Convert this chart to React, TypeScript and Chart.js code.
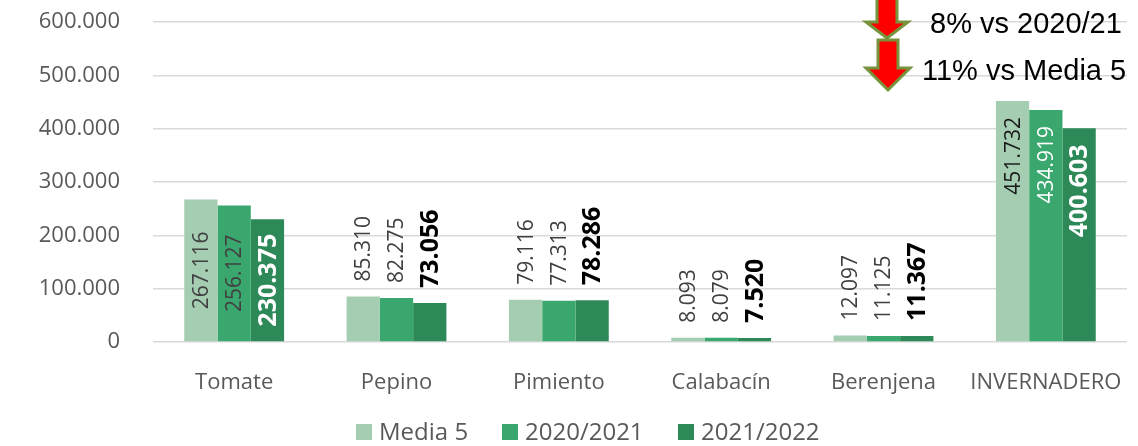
import React, { useEffect, useRef } from "react";
import { Chart, registerables } from "chart.js";

Chart.register(...registerables);

const categories = ["Tomate", "Pepino", "Pimiento", "Calabacín", "Berenjena", "INVERNADERO"];
const media5 = [267116, 85310, 79116, 8093, 12097, 451732];
const campaign2020 = [256127, 82275, 77313, 8079, 11125, 434919];
const campaign2021 = [230375, 73056, 78286, 7520, 11367, 400603];
const seriesNames = ["Media 5", "2020/2021", "2021/2022"];
const seriesColors = ["#a5cdb2", "#3aa86e", "#2d8a58"];
// label placement per category: c = centre inside, o = outside end, i = inside end
const labelModes = ["c", "o", "o", "o", "o", "i"];
const annotationLines = ["8% vs 2020/21", "11% vs Media 5"];

const FONT = "'Open Sans', 'Noto Sans', sans-serif";

function fmt(v: number) {
  return v.toLocaleString("de-DE");
}

function labelColor(mode: string, ds: number) {
  if (mode === "c") return ds === 2 ? "#ffffff" : "#404040";
  if (mode === "o") return ds === 2 ? "#000000" : "#404040";
  return ds === 0 ? "#1a1a1a" : "#ffffff";
}

const labelPlugin = {
  id: "barLabels",
  afterDatasetsDraw(chart: any) {
    const ctx = chart.ctx;
    chart.data.datasets.forEach((ds: any, di: number) => {
      const meta = chart.getDatasetMeta(di);
      meta.data.forEach((bar: any, j: number) => {
        const mode = labelModes[j];
        const bold = di === 2;
        const text = fmt(ds.data[j]);
        ctx.save();
        ctx.font = `${bold ? "bold " : ""}${bold ? 25 : 21}px ${FONT}`;
        ctx.fillStyle = labelColor(mode, di);
        ctx.textBaseline = "middle";
        let y: number;
        if (mode === "c") {
          y = (bar.y + bar.base) / 2;
          ctx.textAlign = "center";
        } else if (mode === "o") {
          y = bar.y - 15;
          ctx.textAlign = "left";
        } else {
          y = bar.y + 16;
          ctx.textAlign = "right";
        }
        ctx.translate(bar.x + 1, y);
        ctx.rotate(-Math.PI / 2);
        ctx.fillText(text, 0, 0);
        ctx.restore();
      });
    });
  },
};

function drawArrow(ctx: any, cx: number, top: number, headY: number, tip: number, shaftHalf: number, headHalf: number) {
  ctx.beginPath();
  ctx.moveTo(cx - shaftHalf, top);
  ctx.lineTo(cx + shaftHalf, top);
  ctx.lineTo(cx + shaftHalf, headY);
  ctx.lineTo(cx + headHalf, headY);
  ctx.lineTo(cx, tip);
  ctx.lineTo(cx - headHalf, headY);
  ctx.lineTo(cx - shaftHalf, headY);
  ctx.closePath();
  ctx.fillStyle = "#ff0000";
  ctx.fill();
  ctx.lineWidth = 3;
  ctx.strokeStyle = "#77933c";
  ctx.stroke();
}

const decorPlugin = {
  id: "decor",
  afterDraw(chart: any) {
    const ctx = chart.ctx;
    ctx.save();
    // arrows
    drawArrow(ctx, 887, -10, 22, 38, 10, 21);
    drawArrow(ctx, 888, 40, 68, 90, 10, 22);
    ctx.fillStyle = "#000000";
    ctx.font = "29px 'Liberation Sans', Arial, sans-serif";
    ctx.textAlign = "left";
    ctx.textBaseline = "middle";
    ctx.fillText(annotationLines[0], 930, 25);
    ctx.fillText(annotationLines[1], 922, 72);
    // legend
    const items = [
      { box: 356, text: 379 },
      { box: 502, text: 525 },
      { box: 678, text: 701 },
    ];
    ctx.font = `24px ${FONT}`;
    items.forEach((it, i) => {
      ctx.fillStyle = seriesColors[i];
      ctx.fillRect(it.box, 424, 16, 16);
      ctx.fillStyle = "#595959";
      ctx.fillText(seriesNames[i], it.text, 433);
    });
    ctx.restore();
  },
};

export default function App() {
  const ref = useRef<HTMLCanvasElement>(null);
  useEffect(() => {
    document.body.style.margin = "0";
    const chart = new Chart(ref.current as HTMLCanvasElement, {
      type: "bar",
      data: {
        labels: categories,
        datasets: [media5, campaign2020, campaign2021].map((d, i) => ({
          label: seriesNames[i],
          data: d,
          backgroundColor: seriesColors[i],
          borderWidth: 0,
          barPercentage: 1,
          categoryPercentage: 0.615,
        })),
      },
      options: {
        responsive: false,
        animation: false,
        devicePixelRatio: 1,
        layout: { padding: { top: 22, right: 11, left: 0, bottom: 0 } },
        plugins: { legend: { display: false }, tooltip: { enabled: false } },
        scales: {
          x: {
            grid: { display: false },
            border: { display: false },
            ticks: { color: "#595959", font: { family: FONT, size: 22 }, padding: 20 },
            afterFit: (s: any) => {
              s.height = 104;
              s.paddingLeft = 0;
              s.paddingRight = 0;
            },
          },
          y: {
            min: 0,
            max: 600000,
            grid: { color: "#d9d9d9", lineWidth: 1.5, drawTicks: false },
            border: { display: false },
            ticks: {
              stepSize: 100000,
              color: "#595959",
              font: { family: FONT, size: 22 },
              padding: 33,
              callback: (v: any) => fmt(Number(v)),
            },
            afterFit: (s: any) => {
              s.width = 153;
              s.paddingTop = 0;
              s.paddingBottom = 0;
            },
          },
        },
      },
      plugins: [labelPlugin, decorPlugin],
    });
    return () => chart.destroy();
  }, []);
  return <canvas ref={ref} width={1138} height={446} style={{ display: "block" }} />;
}
